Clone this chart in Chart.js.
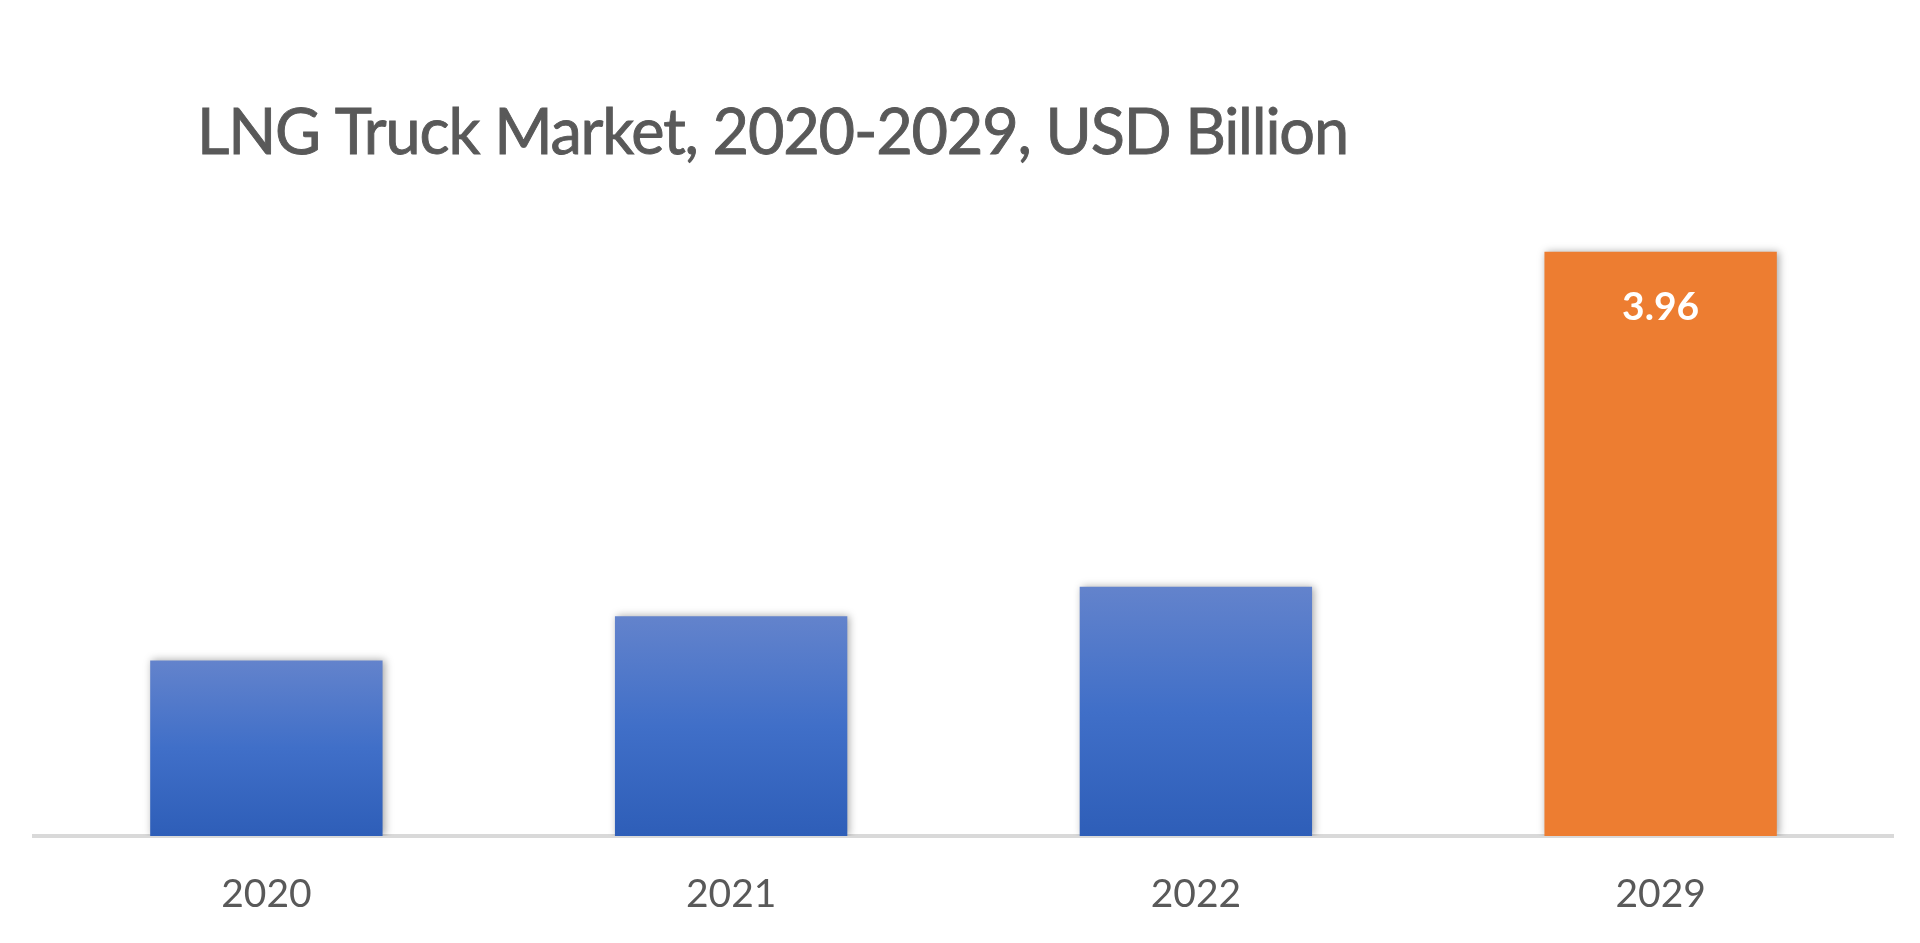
<!DOCTYPE html>
<html>
<head>
<meta charset="utf-8">
<script src="https://cdn.jsdelivr.net/npm/chart.js@4.4.1/dist/chart.umd.min.js"></script>
<style>
  html, body { margin: 0; padding: 0; background: #ffffff; }
  #wrap { position: relative; width: 1920px; height: 943px; }
  canvas { display: block; }
</style>
</head>
<body>
<div id="wrap"><canvas id="c" width="1920" height="943"></canvas></div>
<script>
const titleText = 'LNG Truck Market, 2020-2029, USD Billion';
const categories = ['2020', '2021', '2022', '2029'];
const marketValues = [1.19, 1.49, 1.69, 3.96];
const labelledIndex = [3];
const labelTexts = ['', '', '', '3.96'];

const FONT = 'Lato, "Open Sans", sans-serif';

function barFill(ctx) {
  const chart = ctx.chart;
  if (ctx.dataIndex === 3) return '#ED7D31';
  const area = chart.chartArea;
  if (!area || !chart.scales.y) return '#4472C4';
  const v = ctx.raw;
  const top = chart.scales.y.getPixelForValue(v);
  const bottom = area.bottom;
  const g = chart.ctx.createLinearGradient(0, top, 0, bottom);
  g.addColorStop(0, '#6383CC');
  g.addColorStop(0.5, '#406FC8');
  g.addColorStop(1, '#2E5EB8');
  return g;
}

const shadowPlugin = {
  id: 'barShadow',
  beforeDatasetsDraw(chart) {
    const c = chart.ctx;
    c.save();
    c.shadowColor = 'rgba(0,0,0,0.35)';
    c.shadowBlur = 8;
    c.shadowOffsetX = 2;
    c.shadowOffsetY = 0;
  },
  afterDatasetsDraw(chart) {
    chart.ctx.restore();
  }
};

const valueLabelPlugin = {
  id: 'valueLabels',
  afterDatasetsDraw(chart) {
    const c = chart.ctx;
    const meta = chart.getDatasetMeta(0);
    c.save();
    c.fillStyle = '#ffffff';
    c.font = 'bold 39px ' + FONT;
    c.textAlign = 'center';
    c.textBaseline = 'alphabetic';
    labelledIndex.forEach(i => {
      const el = meta.data[i];
      c.fillText(labelTexts[i], el.x, el.y + 68);
    });
    c.restore();
  }
};

const titlePlugin = {
  id: 'leftTitle',
  afterDraw(chart) {
    const c = chart.ctx;
    c.save();
    c.fillStyle = '#595959';
    c.strokeStyle = '#595959';
    c.lineWidth = 0.9;
    c.font = '63px ' + FONT;
    if ('letterSpacing' in c) c.letterSpacing = '-1.2px';
    c.textAlign = 'left';
    c.textBaseline = 'alphabetic';
    c.fillText(titleText, 197, 154);
    c.strokeText(titleText, 197, 154);
    c.restore();
  }
};

new Chart(document.getElementById('c'), {
  type: 'bar',
  data: {
    labels: categories,
    datasets: [{
      label: 'LNG Truck Market (USD Billion)',
      data: marketValues,
      backgroundColor: barFill,
      borderWidth: 0,
      barPercentage: 0.5,
      categoryPercentage: 1.0
    }]
  },
  options: {
    responsive: false,
    animation: false,
    devicePixelRatio: 1,
    layout: { padding: { top: 172, left: 34, right: 27, bottom: 0 } },
    plugins: {
      legend: { display: false },
      title: { display: false },
      tooltip: { enabled: false }
    },
    scales: {
      x: {
        grid: { display: false, drawTicks: false },
        border: { display: true, color: '#D9D9D9', width: 4 },
        ticks: {
          color: '#595959',
          font: { family: FONT, size: 39 },
          padding: 35
        },
        afterFit(scale) { scale.height = 107; }
      },
      y: {
        display: false,
        min: 0,
        max: 4.5
      }
    }
  },
  plugins: [shadowPlugin, valueLabelPlugin, titlePlugin]
});
</script>
</body>
</html>
